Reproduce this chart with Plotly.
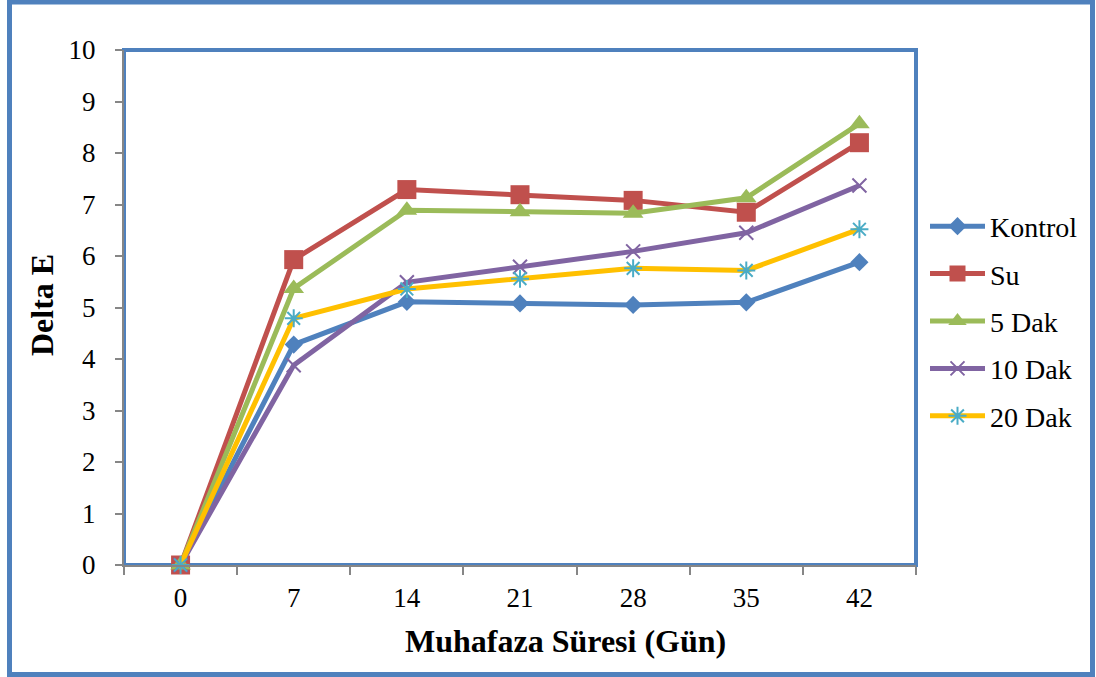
import plotly.graph_objects as go

days = ["0", "7", "14", "21", "28", "35", "42"]
kontrol = [0, 4.28, 5.11, 5.08, 5.05, 5.10, 5.88]
su = [0, 5.93, 7.29, 7.19, 7.08, 6.85, 8.20]
dak5 = [0, 5.37, 6.89, 6.86, 6.83, 7.13, 8.57]
dak10 = [0, 3.88, 5.49, 5.79, 6.09, 6.45, 7.37]
dak20 = [0, 4.79, 5.36, 5.56, 5.76, 5.72, 6.52]

series_names = ["Kontrol", "Su", "5 Dak", "10 Dak", "20 Dak"]
yticks = list(range(0, 11))

FONT = "Liberation Serif"
BLUE = "#4F81BD"

W, H = 1096, 677
ML, MR, MT, MB = 124, 180, 50, 112
PW, PH = W - ML - MR, H - MT - MB

def px(x):
    return (x - ML) / PW

def py(y):
    return (H - MB - y) / PH

styles = [
    dict(line=dict(color="#4F81BD", width=5),
         marker=dict(symbol="diamond", size=14, color="#4F81BD")),
    dict(line=dict(color="#C0504D", width=5),
         marker=dict(symbol="square", size=19, color="#C0504D")),
    dict(line=dict(color="#9BBB59", width=5),
         marker=dict(symbol="triangle-up", size=18, color="#9BBB59")),
    dict(line=dict(color="#8064A2", width=5),
         marker=dict(symbol="x-thin", size=14, color="#8064A2",
                     line=dict(color="#8064A2", width=2))),
    dict(line=dict(color="#FFC000", width=5),
         marker=dict(symbol="asterisk-open", size=15, color="#4BACC6",
                     line=dict(color="#4BACC6", width=2))),
]

fig = go.Figure()
for name, vals, st in zip(series_names, [kontrol, su, dak5, dak10, dak20], styles):
    fig.add_trace(go.Scatter(
        x=days, y=vals, name=name, mode="lines+markers",
        line=st["line"], marker=st["marker"], cliponaxis=False,
        legendgroup=name,
    ))

tickfont = dict(family=FONT, size=27, color="black")

fig.update_layout(
    width=W, height=H,
    margin=dict(l=ML, r=MR, t=MT, b=MB),
    paper_bgcolor="white", plot_bgcolor="white",
    font=dict(family=FONT, size=27, color="black"),
    showlegend=True,
    legend=dict(x=px(925), y=py(321), xanchor="left", yanchor="middle",
                font=dict(family=FONT, size=28, color="black"),
                tracegroupgap=8, itemwidth=55, bgcolor="rgba(0,0,0,0)"),
    xaxis=dict(type="category", range=[-0.5, 6.5], showgrid=False, zeroline=False,
               showline=True, linecolor="#868686", linewidth=2,
               ticks="outside", tickson="boundaries", ticklen=8, tickcolor="#868686",
               tickwidth=2, tickfont=tickfont,
               ticklabelstandoff=8),
    yaxis=dict(range=[0, 10], tickvals=yticks, showgrid=False, zeroline=False,
               showline=True, linecolor="#868686", linewidth=2,
               ticks="outside", ticklen=7, tickcolor="#868686", tickwidth=2,
               tickfont=tickfont,
               ticklabelstandoff=14),
    annotations=[
        dict(text="<b>Muhafaza Süresi (Gün)</b>", xref="paper", yref="paper",
             x=px(565), y=py(641), xanchor="center", yanchor="middle",
             showarrow=False, font=dict(family=FONT, size=32, color="black")),
        dict(text="<b>Delta E</b>", xref="paper", yref="paper",
             x=px(42), y=py(305), xanchor="center", yanchor="middle", textangle=-90,
             showarrow=False, font=dict(family=FONT, size=32, color="black")),
    ],
    shapes=[
        dict(type="rect", xref="paper", yref="paper", x0=0, x1=1, y0=0, y1=1,
             line=dict(color=BLUE, width=4), layer="below"),
        dict(type="rect", xref="paper", yref="paper",
             x0=px(9.5), x1=px(1092.5), y0=py(674.5), y1=py(2),
             line=dict(color=BLUE, width=5), layer="below"),
    ],
)

fig.write_html("out.html")
